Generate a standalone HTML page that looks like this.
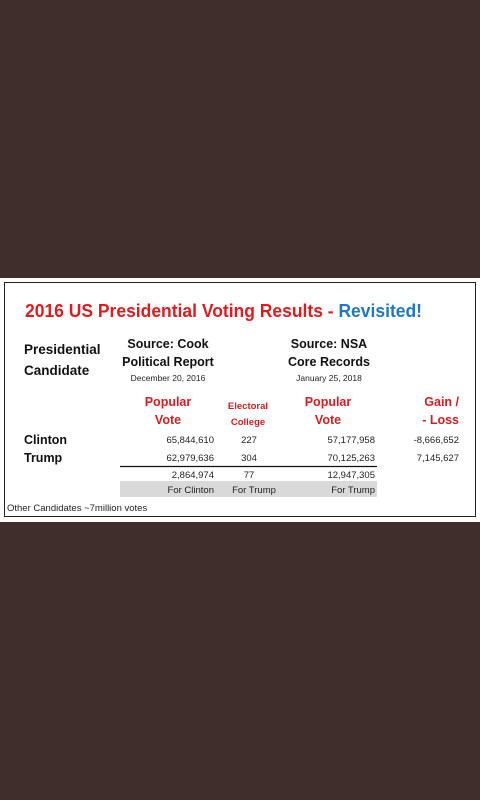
<!DOCTYPE html>
<html><head><meta charset="utf-8"><style>
html,body{margin:0;padding:0;}
body{width:480px;height:800px;background:#3f2e2b;overflow:hidden;position:relative;font-family:"Liberation Sans",sans-serif;}
svg{position:absolute;left:0;top:0;}
</style></head><body>
<svg width="480" height="800">
<rect x="0" y="278" width="480" height="244" fill="#ffffff"/>
<rect x="4.5" y="282.5" width="471" height="234" fill="none" stroke="#222" stroke-width="1"/>
<text x="25" y="317" font-size="18" font-weight="bold" fill="#e01a1f" textLength="397" lengthAdjust="spacingAndGlyphs">2016 US Presidential Voting Results - <tspan fill="#1f78c1">Revisited!</tspan></text>
<g font-size="13.5" font-weight="bold" fill="#111">
<text x="24" y="354">Presidential</text><text x="24" y="375">Candidate</text></g>
<g text-anchor="middle" font-weight="bold" font-size="12.5" fill="#111">
<text x="168" y="348">Source: Cook</text><text x="168" y="366">Political Report</text>
<text x="329" y="348">Source: NSA</text><text x="329" y="366">Core Records</text></g>
<g text-anchor="middle" font-size="8.5" fill="#222">
<text x="168" y="381">December 20, 2016</text><text x="329" y="381">January 25, 2018</text></g>
<g font-weight="bold" fill="#d71a20">
<text x="168" y="406" font-size="12.5" text-anchor="middle">Popular</text>
<text x="168" y="424" font-size="12.5" text-anchor="middle">Vote</text>
<text x="248" y="409" font-size="9.5" text-anchor="middle">Electoral</text>
<text x="248" y="425" font-size="9.5" text-anchor="middle">College</text>
<text x="328" y="406" font-size="12.5" text-anchor="middle">Popular</text>
<text x="328" y="424" font-size="12.5" text-anchor="middle">Vote</text>
<text x="459" y="406" font-size="12.5" text-anchor="end">Gain /</text>
<text x="459" y="424" font-size="12.5" text-anchor="end">- Loss</text></g>
<g font-weight="bold" font-size="12.5" fill="#111">
<text x="24" y="444">Clinton</text><text x="24" y="462">Trump</text></g>
<g font-size="9.5" fill="#222">
<text x="214" y="443" text-anchor="end">65,844,610</text>
<text x="249" y="443" text-anchor="middle">227</text>
<text x="375" y="443" text-anchor="end">57,177,958</text>
<text x="459" y="443" text-anchor="end">-8,666,652</text>
<text x="214" y="461" text-anchor="end">62,979,636</text>
<text x="249" y="461" text-anchor="middle">304</text>
<text x="375" y="461" text-anchor="end">70,125,263</text>
<text x="459" y="461" text-anchor="end">7,145,627</text>
<text x="214" y="478" text-anchor="end">2,864,974</text>
<text x="249" y="478" text-anchor="middle">77</text>
<text x="375" y="478" text-anchor="end">12,947,305</text></g>
<line x1="120" y1="466.5" x2="377" y2="466.5" stroke="#111" stroke-width="1.2"/>
<rect x="120" y="481" width="257" height="16" fill="#d9d9d9"/>
<g font-size="9.5" fill="#222">
<text x="214" y="493" text-anchor="end">For Clinton</text>
<text x="254" y="493" text-anchor="middle">For Trump</text>
<text x="375" y="493" text-anchor="end">For Trump</text></g>
<text x="7" y="511" font-size="9.5" fill="#222">Other Candidates ~7million votes</text>
</svg>
</body></html>
